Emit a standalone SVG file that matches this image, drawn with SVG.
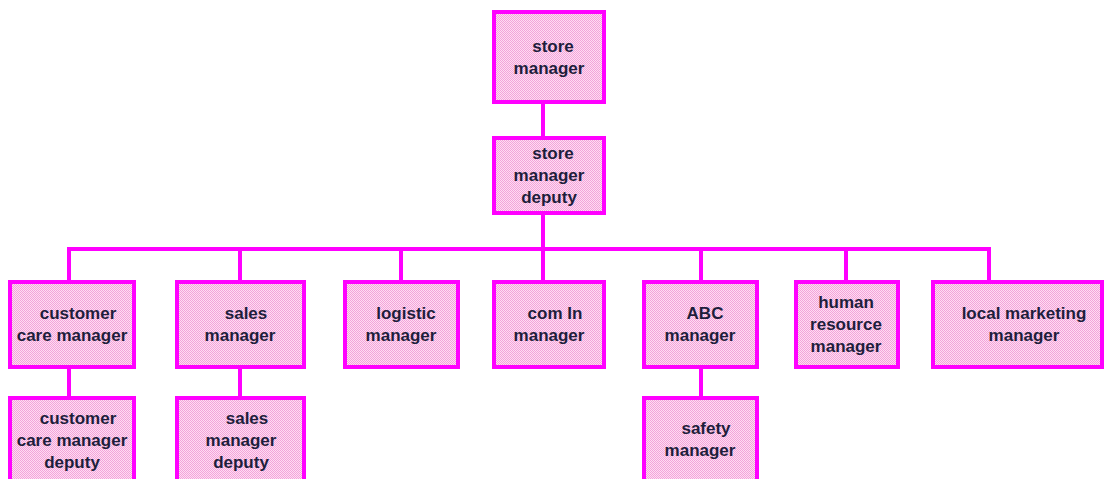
<svg xmlns="http://www.w3.org/2000/svg" width="1104" height="479" viewBox="0 0 1104 479">
<defs>
<pattern id="dots" width="2" height="2" patternUnits="userSpaceOnUse">
<rect width="2" height="2" fill="#ffdcf2"/>
<rect width="1" height="1" fill="#f2a4da"/>
<rect x="1" y="1" width="1" height="1" fill="#f2a4da"/>
</pattern>
</defs>
<style>
.box{fill:url(#dots);stroke:#ff00ff;stroke-width:4}
.ln{stroke:#ff00ff;stroke-width:4;fill:none;stroke-linejoin:miter}
text{font-family:"Liberation Sans",Arial,sans-serif;font-weight:bold;font-size:17px;fill:#1e1e3c;text-anchor:middle}
</style>
<rect width="1104" height="479" fill="#ffffff"/>
<g id="connectors">
<path class="ln" d="M543 102V138M543 213V249M69 282V249H989V282M240 249V282M401 249V282M543 249V282M701 249V282M846 249V282M69 367V398M240 367V398M701 367V398"/>
</g>
<g id="store-manager"><rect class="box" x="494" y="12" width="110" height="90"/><text x="553" y="52">store</text><text x="549" y="74">manager</text></g>
<g id="store-manager-deputy"><rect class="box" x="494" y="138" width="110" height="75"/><text x="553" y="159">store</text><text x="549" y="181">manager</text><text x="549" y="203">deputy</text></g>
<g id="customer-care-manager"><rect class="box" x="10" y="282" width="124" height="85"/><text x="78" y="319">customer</text><text x="72" y="341">care manager</text></g>
<g id="sales-manager"><rect class="box" x="177" y="282" width="127" height="85"/><text x="246" y="319">sales</text><text x="240" y="341">manager</text></g>
<g id="logistic-manager"><rect class="box" x="345" y="282" width="113" height="85"/><text x="406" y="319">logistic</text><text x="401" y="341">manager</text></g>
<g id="com-in-manager"><rect class="box" x="494" y="282" width="110" height="85"/><text x="555" y="319">com In</text><text x="549" y="341">manager</text></g>
<g id="abc-manager"><rect class="box" x="644" y="282" width="113" height="85"/><text x="705" y="319">ABC</text><text x="700" y="341">manager</text></g>
<g id="human-resource-manager"><rect class="box" x="796" y="282" width="102" height="85"/><text x="846" y="308">human</text><text x="846" y="330">resource</text><text x="846" y="352">manager</text></g>
<g id="local-marketing-manager"><rect class="box" x="933" y="282" width="169" height="85"/><text x="1024" y="319">local marketing</text><text x="1024" y="341">manager</text></g>
<g id="customer-care-manager-deputy"><rect class="box" x="10" y="398" width="124" height="100"/><text x="78" y="424">customer</text><text x="72" y="446">care manager</text><text x="72" y="468">deputy</text></g>
<g id="sales-manager-deputy"><rect class="box" x="177" y="398" width="127" height="100"/><text x="247" y="424">sales</text><text x="241" y="446">manager</text><text x="241" y="468">deputy</text></g>
<g id="safety-manager"><rect class="box" x="644" y="398" width="113" height="100"/><text x="706" y="434">safety</text><text x="700" y="456">manager</text></g>
</svg>
